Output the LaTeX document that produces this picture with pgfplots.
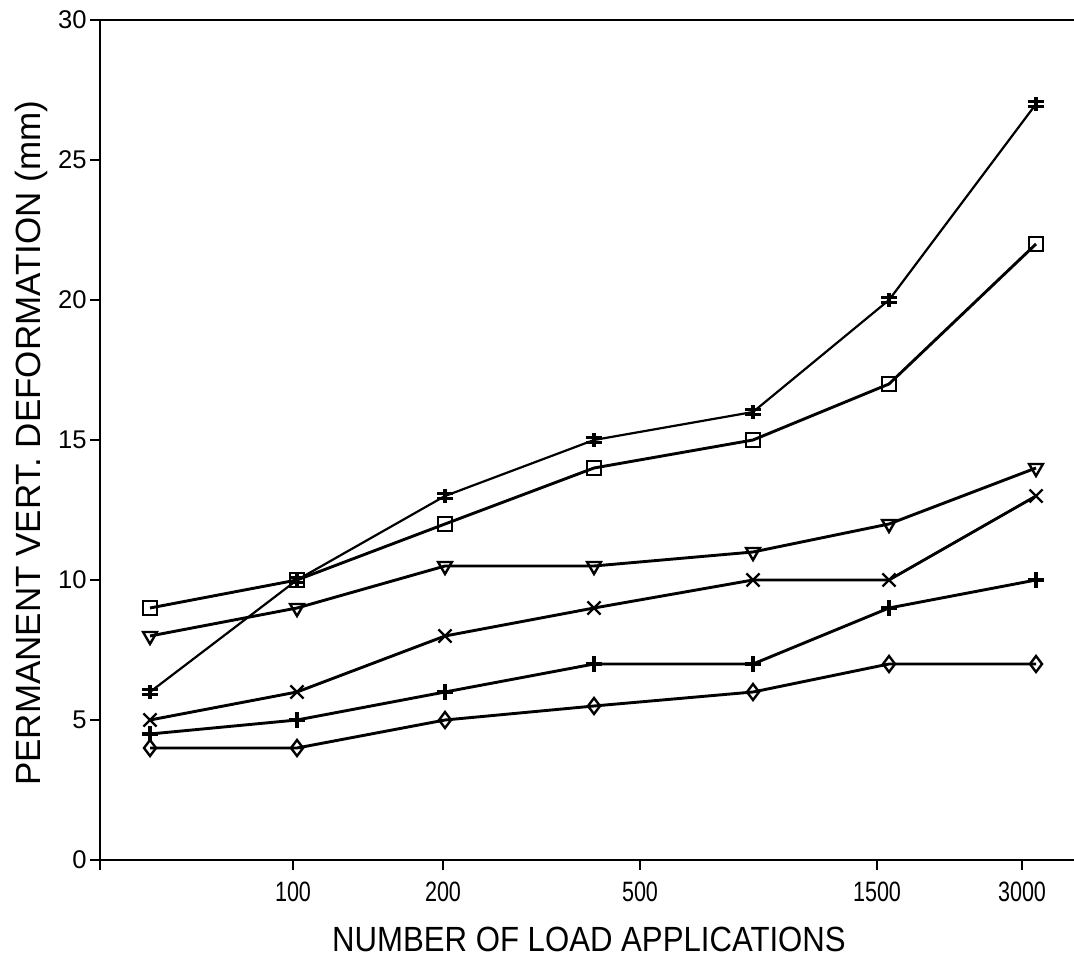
\documentclass[border=0pt]{standalone}
\usepackage{fontspec}
\setmainfont{Liberation Sans}
\usepackage{pgfplots}
\pgfplotsset{compat=1.18}

% vertical bar with two cross bars
\pgfdeclareplotmark{dcross}{%
  \pgfpathmoveto{\pgfqpoint{0pt}{-\pgfplotmarksize}}%
  \pgfpathlineto{\pgfqpoint{0pt}{\pgfplotmarksize}}%
  \pgfpathmoveto{\pgfqpoint{-1.1\pgfplotmarksize}{0.35\pgfplotmarksize}}%
  \pgfpathlineto{\pgfqpoint{1.1\pgfplotmarksize}{0.35\pgfplotmarksize}}%
  \pgfpathmoveto{\pgfqpoint{-1.1\pgfplotmarksize}{-0.35\pgfplotmarksize}}%
  \pgfpathlineto{\pgfqpoint{1.1\pgfplotmarksize}{-0.35\pgfplotmarksize}}%
  \pgfusepathqstroke}

\begin{document}
\begin{tikzpicture}
\useasboundingbox (0,0) rectangle (537bp,480bp);
\begin{axis}[
    at={(50bp,50bp)}, anchor=south west,
    scale only axis,
    width=487bp, height=420bp,
    xmin=100, xmax=1074,
    ymin=0, ymax=30,
    axis x line=box, axis y line=left,
    axis line style={line width=1.4bp, -},
    tick style={line width=1.2bp, black},
    tick align=outside,
    major tick length=5bp,
    xtick={100,293,443,640,877,1022},
    xticklabels={,100,200,500,1500,3000},
    ytick={0,5,10,15,20,25,30},
    xtick pos=bottom, ytick pos=left,
    /pgf/number format/assume math mode=true,
    yticklabel style={font=\fontsize{12.8bp}{14bp}\selectfont, inner sep=0pt, xshift=-1.5bp},
    xticklabel style={font=\fontsize{14bp}{16bp}\selectfont, xscale=0.77, anchor=center, yshift=-11bp},
    xlabel={NUMBER OF LOAD APPLICATIONS},
    ylabel={PERMANENT VERT. DEFORMATION (mm)},
    xlabel style={font=\fontsize{17.5bp}{20bp}\selectfont, xscale=0.89, at={(axis description cs:0.502,-0.095)}, anchor=center, inner sep=0pt},
    ylabel style={font=\fontsize{17.5bp}{20bp}\selectfont, at={(axis description cs:-0.0708,0.496)}, anchor=center, inner sep=0pt},
    every axis plot/.append style={black, line width=1.45bp},
    clip=false,
]
% double cross
\addplot[line width=1.1bp, mark=dcross, mark size=3.5bp, mark options={line width=1.7bp}] coordinates {
    (150,6) (297,10) (445,13) (594,15) (753,16) (889,20) (1036,27)
};
% square
\addplot[mark=square, mark size=3.6bp, mark options={fill=white, line width=1.2bp}] coordinates {
    (150,9) (297,10) (445,12) (594,14) (753,15) (889,17) (1036,22)
};
% triangle down
\addplot[mark=triangle, mark size=4bp, mark options={rotate=180, fill=white, line width=1.2bp}] coordinates {
    (150,8) (297,9) (445,10.5) (594,10.5) (753,11) (889,12) (1036,14)
};
% cross
\addplot[mark=x, mark size=4.6bp, mark options={line width=1.2bp}] coordinates {
    (150,5) (297,6) (445,8) (594,9) (753,10) (889,10) (1036,13)
};
% plus
\addplot[mark=+, mark size=3.8bp, mark options={line width=2.3bp}] coordinates {
    (150,4.5) (297,5) (445,6) (594,7) (753,7) (889,9) (1036,10)
};
% diamond
\addplot[mark=diamond, mark size=4bp, mark options={fill=white, line width=1.2bp}] coordinates {
    (150,4) (297,4) (445,5) (594,5.5) (753,6) (889,7) (1036,7)
};
\end{axis}
\end{tikzpicture}
\end{document}
